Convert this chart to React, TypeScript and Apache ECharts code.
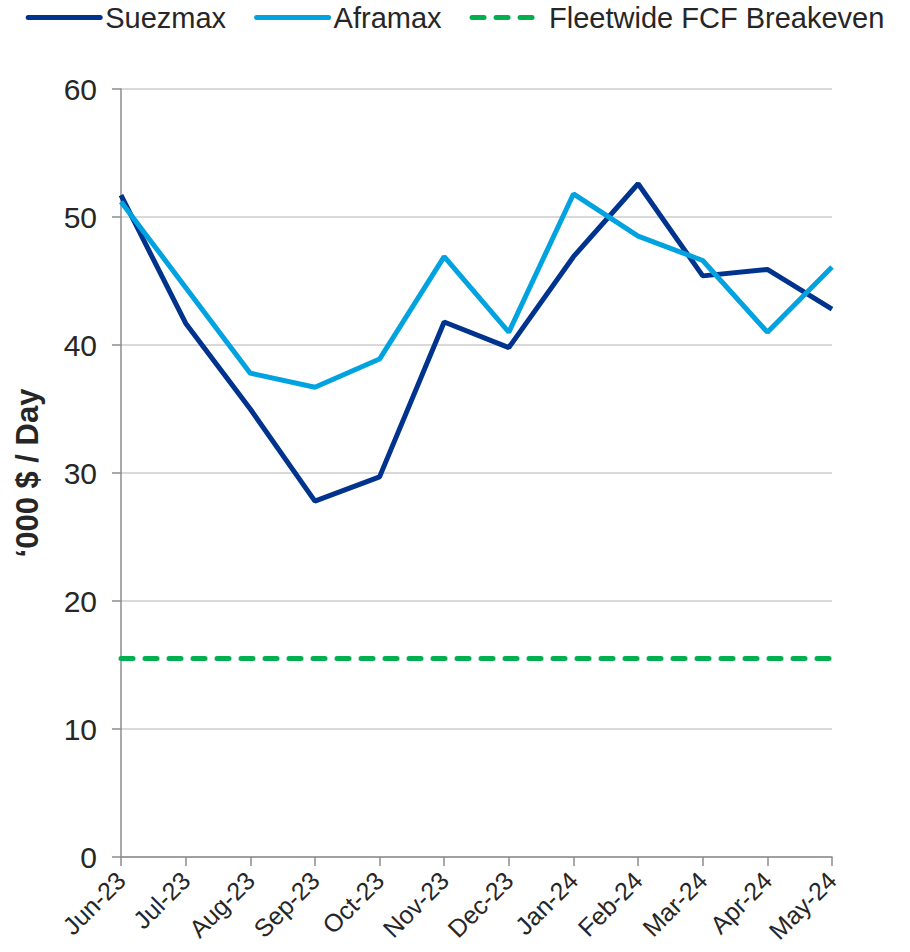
import React, { useEffect, useRef } from "react";
import * as echarts from "echarts";

// Monthly tanker earnings, '000 $ per day
const months = [
  "Jun-23", "Jul-23", "Aug-23", "Sep-23", "Oct-23", "Nov-23",
  "Dec-23", "Jan-24", "Feb-24", "Mar-24", "Apr-24", "May-24",
];
const suezmax = [51.7, 41.7, 35.0, 27.8, 29.7, 41.8, 39.8, 46.9, 52.6, 45.4, 45.9, 42.8];
const aframax = [51.2, 44.5, 37.8, 36.7, 38.9, 46.9, 41.0, 51.8, 48.5, 46.6, 41.0, 46.1];
const breakevenLevel = 15.5;
const breakeven = months.map(() => breakevenLevel);

const FONT = "'Liberation Sans', Arial, sans-serif";
const TEXT = "#262626";

export default function App() {
  const ref = useRef<HTMLDivElement>(null);

  useEffect(() => {
    if (!ref.current) return;
    const chart = echarts.init(ref.current, null, { renderer: "svg" });
    chart.setOption({
      animation: false,
      textStyle: { fontFamily: FONT },
      legend: {
        top: -2,
        left: "center",
        itemWidth: 72,
        itemHeight: 14,
        itemGap: 28,
        itemStyle: { opacity: 0 },
        lineStyle: { width: 5, cap: "round" },
        textStyle: { fontSize: 29, color: TEXT, fontFamily: FONT },
        data: ["Suezmax", "Aframax", "Fleetwide FCF Breakeven"],
      },
      grid: {
        left: 121,
        right: 78,
        top: 89,
        bottom: 95,
        containLabel: false,
        outerBoundsMode: "none",
      },
      xAxis: {
        type: "category",
        data: months,
        boundaryGap: false,
        axisLine: { lineStyle: { color: "#8c8c8c", width: 1.5 } },
        axisTick: { show: true, length: 9, interval: 0, lineStyle: { color: "#8c8c8c", width: 1.5 } },
        axisLabel: {
          interval: 0,
          rotate: 45,
          fontSize: 25,
          color: TEXT,
          fontFamily: FONT,
          margin: 19,
        },
      },
      yAxis: {
        type: "value",
        min: 0,
        max: 60,
        interval: 10,
        name: "\u2018000 $ / Day",
        nameLocation: "middle",
        nameGap: 78,
        nameTextStyle: { fontSize: 31, fontWeight: "bold", color: TEXT, fontFamily: FONT },
        axisLine: { show: true, lineStyle: { color: "#8c8c8c", width: 1.5 } },
        axisTick: { show: true, length: 9, lineStyle: { color: "#8c8c8c", width: 1.5 } },
        axisLabel: { fontSize: 30, color: TEXT, fontFamily: FONT, margin: 24 },
        splitLine: { lineStyle: { color: "#d9d9d9", width: 2 } },
      },
      series: [
        {
          name: "Suezmax",
          type: "line",
          data: suezmax,
          symbol: "none",
          lineStyle: { color: "#00338d", width: 5 },
          itemStyle: { color: "#00338d" },
          z: 3,
        },
        {
          name: "Aframax",
          type: "line",
          data: aframax,
          symbol: "none",
          lineStyle: { color: "#00a3e0", width: 5 },
          itemStyle: { color: "#00a3e0" },
          z: 4,
        },
        {
          name: "Fleetwide FCF Breakeven",
          type: "line",
          data: breakeven,
          symbol: "none",
          lineStyle: { color: "#00b050", width: 5, type: [12, 12], cap: "round" },
          itemStyle: { color: "#00b050" },
          z: 2,
        },
      ],
    });
    return () => chart.dispose();
  }, []);

  return (
    <div
      ref={ref}
      style={{ position: "absolute", left: 0, top: 0, width: 910, height: 952 }}
    />
  );
}
